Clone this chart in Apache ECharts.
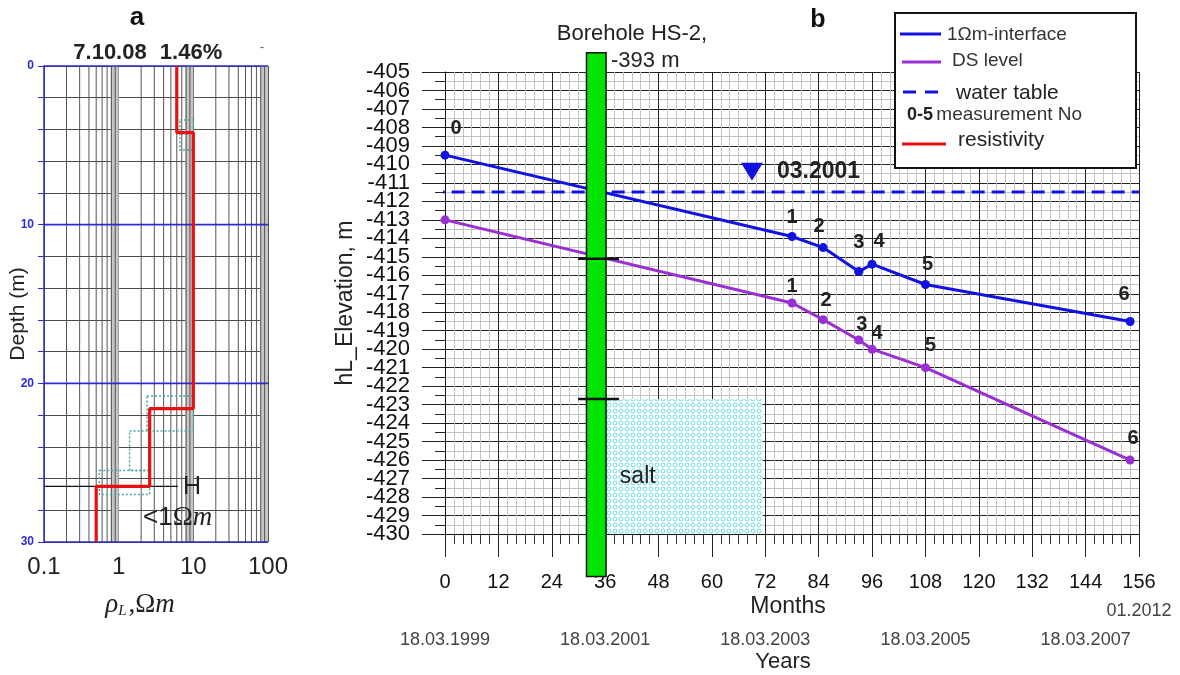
<!DOCTYPE html>
<html><head><meta charset="utf-8">
<script src="https://cdn.jsdelivr.net/npm/echarts@6/dist/echarts.min.js"></script>
<style>html,body{margin:0;padding:0;background:#fff}#c{width:1180px;height:675px}</style>
</head><body><div id="c"></div>
<script>
// ---------- Panel a: resistivity log ----------
const layerRho = [6, 10, 2.6, 0.5];          // Ωm
const layerTop = [0, 4.2, 21.6, 26.5];       // m depth
const layerBottom = 30;
const hLineDepth = 26.5;
const hLineRho = [0.1, 6.2];
const logGridValues = [0.2,0.3,0.4,0.5,0.6,0.7,0.8,0.9,2,3,4,5,6,7,8,9,20,30,40,50,60,70,80,90];
const grayBands = [[0.78, 1.0], [7.8, 10], [78, 100]];
const depthMajor = [0, 10, 20, 30];
const eqBoxes = [[6.6, 10, 3.4, 5.3], [2.4, 10, 20.8, 23.0], [1.4, 2.6, 23.0, 25.5], [0.55, 2.6, 25.5, 27.0]];
const rhoTickLabels = ['0.1', '1', '10', '100'];

// ---------- Panel b: elevation vs months ----------
const measNo = ['0', '1', '2', '3', '4', '5', '6'];
const months = [0, 78, 85, 93, 96, 108, 154];
const interfaceElev = [-409.5, -413.9, -414.5, -415.8, -415.4, -416.5, -418.5];
const dsElev = [-413.0, -417.5, -418.4, -419.5, -420.0, -421.0, -426.0];
const waterTableElev = -411.5;
const waterTableMonths = [-3, 156];
const waterMarker = [69, -410.4];
const waterMarkerLabel = '03.2001';
const boreholeMonths = [31.8, 36.2];
const boreholeElev = [-403.96, -432.3];
const boreholeMarkElev = [-415.1, -422.7];
const boreholeMarkMonths = [29.9, 39.1];
const saltMonths = [36.2, 71.4];
const saltElev = [-422.7, -430];
const dateMonths = [0, 36, 72, 108, 144];
const dateLabels = ['18.03.1999', '18.03.2001', '18.03.2003', '18.03.2005', '18.03.2007'];

const FONT = '"Liberation Sans", Arial, sans-serif';
const SERIF = '"Liberation Serif", "DejaVu Serif", serif';
const BLUE = '#1212e0';
const PURPLE = '#9a2fd2';
const RED = '#e81010';

function saltPattern() {
  const c = document.createElement('canvas'); c.width = 6; c.height = 6;
  const g = c.getContext('2d');
  g.fillStyle = '#ffffff'; g.fillRect(0, 0, 6, 6);
  g.strokeStyle = '#6fdde2'; g.lineWidth = 1;
  g.beginPath(); g.arc(3, 3, 2, 0, Math.PI * 2); g.stroke();
  return c;
}

// build step polyline for resistivity
const redPts = [];
layerRho.forEach((r, i) => {
  const top = layerTop[i];
  const bot = i < layerRho.length - 1 ? layerTop[i + 1] : layerBottom;
  redPts.push([r, top]); redPts.push([r, bot]);
});

const ifNudge = [[11, -7], [0, 1], [-4, -2], [0, -10], [7, -3], [2, -1], [-6, -7]];
const dsNudge = [null, [0, 3], [3, 0], [3, 4], [5, 4], [5, -3], [3, -2]];

function pointSeries(name, elev, color, nudges) {
  return {
    name, type: 'line', xAxisIndex: 1, yAxisIndex: 1, z: 4,
    symbol: 'circle', symbolSize: 9,
    lineStyle: { color, width: 3 }, itemStyle: { color },
    data: months.map((m, i) => ({
      value: [m, elev[i]],
      label: nudges[i] ? { show: true, offset: nudges[i] } : { show: false }
    })),
    label: {
      show: true, position: 'top', distance: 5,
      formatter: p => measNo[p.dataIndex],
      fontSize: 20, fontWeight: 'bold', color: '#222', fontFamily: FONT
    }
  };
}

// two label-only axes (even / odd values) so that the tightly packed labels are all kept
function elevLabelAxis(parity) {
  return { gridIndex: 1, type: 'value', position: 'left', min: -430, max: -405, interval: 1,
    axisLine: { show: false }, axisTick: { show: false }, splitLine: { show: false },
    axisLabel: { fontSize: 22, color: '#111', margin: 35, showMinLabel: true, showMaxLabel: true,
      formatter: v => (Math.abs(Math.round(v)) % 2 === parity ? String(v) : '') } };
}

const option = {
  animation: false,
  textStyle: { fontFamily: FONT },
  grid: [
    { left: 44, top: 66, width: 224, height: 476, outerBoundsMode: 'none' },
    { left: 445, top: 72, width: 694, height: 462, outerBoundsMode: 'none' }
  ],
  xAxis: [
    { gridIndex: 0, type: 'log', logBase: 10, min: 0.1, max: 100,
      axisLine: { show: false }, axisTick: { show: false },
      axisLabel: { fontSize: 24, color: '#222', margin: 13, showMinLabel: true, showMaxLabel: true,
        formatter: v => rhoTickLabels[Math.round(Math.log10(v)) + 1] || '' },
      splitLine: { show: true, lineStyle: { color: '#555', width: 1 } } },
    { gridIndex: 1, type: 'value', min: 0, max: 156, interval: 12,
      axisLine: { show: true, lineStyle: { color: '#111' } },
      axisTick: { show: true, length: 23, lineStyle: { color: '#222' } },
      minorTick: { show: true, splitNumber: 6, length: 10, lineStyle: { color: '#333' } },
      axisLabel: { fontSize: 20, color: '#111', margin: 38, showMinLabel: true, showMaxLabel: true },
      splitLine: { show: true, lineStyle: { color: '#222', width: 1 } },
      minorSplitLine: { show: true, lineStyle: { color: '#c4c4c4', width: 1 } } },
    { gridIndex: 1, type: 'value', min: 0, max: 156, interval: 36, position: 'bottom',
      axisLine: { show: false }, axisTick: { show: false }, splitLine: { show: false },
      axisLabel: { fontSize: 18, color: '#444', margin: 97, showMinLabel: true,
        formatter: v => { const k = dateMonths.indexOf(v); return k >= 0 ? dateLabels[k] : ''; } } }
  ],
  yAxis: [
    { gridIndex: 0, type: 'value', inverse: true, min: 0, max: 30, interval: 2,
      axisLine: { show: true, lineStyle: { color: '#2c2cc8', width: 1.5 } },
      axisTick: { show: true, length: 6, lineStyle: { color: '#2c2cc8' } },
      axisLabel: { fontSize: 12, fontWeight: 'bold', color: '#2a2ad6', margin: 10, showMinLabel: true, showMaxLabel: true,
        formatter: v => (v % 10 === 0 ? String(v) : '') },
      splitLine: { show: true, lineStyle: { color: '#4a4a4a', width: 1 } } },
    { gridIndex: 1, type: 'value', position: 'left', min: -430, max: -405, interval: 1,
      axisLine: { show: true, lineStyle: { color: '#111' } },
      axisTick: { show: true, length: 23, lineStyle: { color: '#222' } },
      minorTick: { show: true, splitNumber: 2, length: 10, lineStyle: { color: '#222' } },
      axisLabel: { show: false },
      splitLine: { show: true, lineStyle: { color: '#222', width: 1 } },
      minorSplitLine: { show: true, lineStyle: { color: '#c4c4c4', width: 1 } },
      name: 'hL_Elevation, m', nameLocation: 'middle', nameGap: 88, nameRotate: 90,
      nameTextStyle: { fontSize: 23, color: '#222' } },
    elevLabelAxis(0),
    elevLabelAxis(1)
  ],
  series: [
    { type: 'custom', xAxisIndex: 0, yAxisIndex: 0, z: 1, silent: true,
      data: grayBands.map(b => [b[0], b[1]]),
      renderItem: (p, api) => {
        const a = api.coord([api.value(0), 0]), b = api.coord([api.value(1), 30]);
        return { type: 'rect', shape: { x: a[0], y: a[1], width: b[0] - a[0], height: b[1] - a[1] },
          style: { fill: '#c6c6c6' } };
      } },
    { type: 'custom', xAxisIndex: 0, yAxisIndex: 0, z: 1, silent: true,
      data: logGridValues.map(v => [v, 0]),
      renderItem: (p, api) => {
        const v = api.value(0); const a = api.coord([v, 0]), b = api.coord([v, 30]);
        return { type: 'line', shape: { x1: a[0], y1: a[1], x2: b[0], y2: b[1] },
          style: { stroke: '#555', lineWidth: 1 } };
      } },
    { type: 'custom', xAxisIndex: 0, yAxisIndex: 0, z: 2, silent: true,
      data: depthMajor.map(d => [0.1, d]),
      renderItem: (p, api) => {
        const d = api.value(1); const a = api.coord([0.1, d]), b = api.coord([100, d]);
        return { type: 'line', shape: { x1: a[0], y1: a[1], x2: b[0], y2: b[1] },
          style: { stroke: '#2c2cc8', lineWidth: 1.6 } };
      } },
    { type: 'custom', xAxisIndex: 0, yAxisIndex: 0, z: 3, silent: true,
      data: eqBoxes,
      renderItem: (p, api) => {
        const a = api.coord([api.value(0), api.value(2)]), b = api.coord([api.value(1), api.value(3)]);
        return { type: 'rect', shape: { x: a[0], y: a[1], width: b[0] - a[0], height: b[1] - a[1] },
          style: { fill: null, stroke: '#45aaa4', lineWidth: 1.5, lineDash: [2, 2] } };
      } },
    { name: 'resistivity', type: 'line', xAxisIndex: 0, yAxisIndex: 0, z: 5,
      symbol: 'none', data: redPts, lineStyle: { color: RED, width: 3.2 } },
    { type: 'line', xAxisIndex: 0, yAxisIndex: 0, z: 4, symbol: 'none',
      data: hLineRho.map(r => [r, hLineDepth]), lineStyle: { color: '#111', width: 1.2 } },
    { type: 'custom', xAxisIndex: 1, yAxisIndex: 1, z: 2, silent: true,
      data: [[saltMonths[0], saltElev[0], saltMonths[1], saltElev[1]]],
      renderItem: (p, api) => {
        const a = api.coord([api.value(0), api.value(1)]), b = api.coord([api.value(2), api.value(3)]);
        const t = api.coord([39.3, -426.9]);
        return { type: 'group', children: [
          { type: 'rect', shape: { x: a[0], y: a[1], width: b[0] - a[0], height: b[1] - a[1] },
            style: { fill: { image: saltPattern(), repeat: 'repeat' } } },
          { type: 'text', x: t[0], y: t[1],
            style: { text: 'salt', fontSize: 23, fill: '#222', fontFamily: FONT, verticalAlign: 'middle', align: 'left' } }
        ] };
      } },
    pointSeries('1Ωm-interface', interfaceElev, BLUE, ifNudge),
    pointSeries('DS level', dsElev, PURPLE, dsNudge),
    { name: 'water table', type: 'line', xAxisIndex: 1, yAxisIndex: 1, z: 3, clip: false,
      symbol: 'none', data: waterTableMonths.map(m => [m, waterTableElev]),
      lineStyle: { color: BLUE, width: 3, type: [13, 7] } },
    { type: 'scatter', xAxisIndex: 1, yAxisIndex: 1, z: 6,
      symbol: 'triangle', symbolRotate: 180, symbolSize: [22, 18],
      itemStyle: { color: BLUE, opacity: 1 }, data: [waterMarker],
      label: { show: true, position: 'right', distance: 14, formatter: waterMarkerLabel,
        fontSize: 23, fontWeight: 'bold', color: '#222', opacity: 1, fontFamily: FONT } },
    { type: 'custom', xAxisIndex: 1, yAxisIndex: 1, z: 10, silent: true,
      data: [[boreholeMonths[0], boreholeElev[0], boreholeMonths[1], boreholeElev[1]]],
      renderItem: (p, api) => {
        const a = api.coord([api.value(0), api.value(1)]), b = api.coord([api.value(2), api.value(3)]);
        return { type: 'rect', shape: { x: a[0], y: a[1], width: b[0] - a[0], height: b[1] - a[1] },
          style: { fill: '#00e400', stroke: '#111', lineWidth: 1.5 } };
      } },
    { type: 'custom', xAxisIndex: 1, yAxisIndex: 1, z: 11, silent: true,
      data: boreholeMarkElev.map(e => [boreholeMarkMonths[0], e]),
      renderItem: (p, api) => {
        const e = api.value(1);
        const a = api.coord([boreholeMarkMonths[0], e]), b = api.coord([boreholeMarkMonths[1], e]);
        return { type: 'line', shape: { x1: a[0], y1: a[1], x2: b[0], y2: b[1] },
          style: { stroke: '#111', lineWidth: 2.5 } };
      } }
  ],
  graphic: [
    { type: 'text', x: 137, y: 18, z: 100, style: { text: 'a', fontSize: 26, fontWeight: 'bold', fill: '#111', align: 'center', verticalAlign: 'middle', fontFamily: FONT } },
    { type: 'text', x: 110, y: 53, z: 100, style: { text: '7.10.08', fontSize: 22, fontWeight: 'bold', fill: '#222', align: 'center', verticalAlign: 'middle', fontFamily: FONT } },
    { type: 'text', x: 191, y: 53, z: 100, style: { text: '1.46%', fontSize: 22, fontWeight: 'bold', fill: '#222', align: 'center', verticalAlign: 'middle', fontFamily: FONT } },
    { type: 'text', x: 262, y: 48, z: 100, style: { text: '-', fontSize: 12, fill: '#555', align: 'center', verticalAlign: 'middle', fontFamily: FONT } },
    { type: 'text', x: 18, y: 314, rotation: Math.PI / 2, z: 100, style: { text: 'Depth (m)', fontSize: 21, fill: '#222', align: 'center', verticalAlign: 'middle', fontFamily: FONT } },
    { type: 'text', x: 140, y: 605, z: 100, style: {
      text: '{r|ρ}{s|L}{t|,Ω}{m|m}', align: 'center', verticalAlign: 'middle',
      rich: {
        r: { fontFamily: SERIF, fontStyle: 'italic', fontSize: 27, fill: '#222' },
        s: { fontFamily: SERIF, fontStyle: 'italic', fontSize: 15, fill: '#222', verticalAlign: 'bottom', padding: [10, 2, 0, 0] },
        t: { fontFamily: SERIF, fontSize: 27, fill: '#222' },
        m: { fontFamily: SERIF, fontStyle: 'italic', fontSize: 27, fill: '#222' }
      } } },
    { type: 'text', x: 183, y: 487, z: 100, style: { text: 'H', fontSize: 25, fill: '#222', align: 'left', verticalAlign: 'middle', fontFamily: FONT } },
    { type: 'text', x: 143, y: 518, z: 100, style: {
      text: '{a|<1}{b|Ω}{c|m}', align: 'left', verticalAlign: 'middle',
      rich: {
        a: { fontFamily: FONT, fontSize: 26, fill: '#222' },
        b: { fontFamily: SERIF, fontSize: 27, fill: '#222' },
        c: { fontFamily: SERIF, fontStyle: 'italic', fontSize: 27, fill: '#222' }
      } } },
    { type: 'text', x: 818, y: 20, z: 100, style: { text: 'b', fontSize: 25, fontWeight: 'bold', fill: '#111', align: 'center', verticalAlign: 'middle', fontFamily: FONT } },
    { type: 'text', x: 632, y: 34, z: 100, style: { text: 'Borehole HS-2,', fontSize: 22, fill: '#222', align: 'center', verticalAlign: 'middle', fontFamily: FONT } },
    { type: 'text', x: 611, y: 61, z: 100, style: { text: '-393 m', fontSize: 22, fill: '#222', align: 'left', verticalAlign: 'middle', fontFamily: FONT } },
    { type: 'text', x: 788, y: 607, z: 100, style: { text: 'Months', fontSize: 23, fill: '#222', align: 'center', verticalAlign: 'middle', fontFamily: FONT } },
    { type: 'text', x: 1139, y: 611, z: 100, style: { text: '01.2012', fontSize: 18, fill: '#444', align: 'center', verticalAlign: 'middle', fontFamily: FONT } },
    { type: 'text', x: 783, y: 662, z: 100, style: { text: 'Years', fontSize: 22, fill: '#222', align: 'center', verticalAlign: 'middle', fontFamily: FONT } },
    { type: 'rect', z: 100, shape: { x: 895, y: 13, width: 241, height: 155 }, style: { fill: '#fff', stroke: '#111', lineWidth: 2 } },
    { type: 'line', z: 101, shape: { x1: 900, y1: 34, x2: 941, y2: 34 }, style: { stroke: BLUE, lineWidth: 3 } },
    { type: 'text', z: 101, x: 947, y: 35, style: { text: '1Ωm-interface', fontSize: 19, fill: '#333', verticalAlign: 'middle', fontFamily: FONT } },
    { type: 'line', z: 101, shape: { x1: 902, y1: 62, x2: 941, y2: 62 }, style: { stroke: PURPLE, lineWidth: 3 } },
    { type: 'text', z: 101, x: 952, y: 61, style: { text: 'DS level', fontSize: 19, fill: '#333', verticalAlign: 'middle', fontFamily: FONT } },
    { type: 'line', z: 101, shape: { x1: 903, y1: 92, x2: 941, y2: 92 }, style: { stroke: BLUE, lineWidth: 3, lineDash: [13, 9] } },
    { type: 'text', z: 101, x: 956, y: 93, style: { text: 'water table', fontSize: 21, fill: '#222', verticalAlign: 'middle', fontFamily: FONT } },
    { type: 'text', z: 101, x: 907, y: 115, style: { text: '{b|0-5} {n|measurement No}', verticalAlign: 'middle',
      rich: { b: { fontSize: 18, fontWeight: 'bold', fill: '#222', fontFamily: FONT }, n: { fontSize: 19, fill: '#333', fontFamily: FONT } } } },
    { type: 'line', z: 101, shape: { x1: 902, y1: 144, x2: 946, y2: 144 }, style: { stroke: RED, lineWidth: 3 } },
    { type: 'text', z: 101, x: 958, y: 140, style: { text: 'resistivity', fontSize: 21, fill: '#222', verticalAlign: 'middle', fontFamily: FONT } }
  ]
};

const chart = echarts.init(document.getElementById('c'));
chart.setOption(option);
</script>
</body></html>
